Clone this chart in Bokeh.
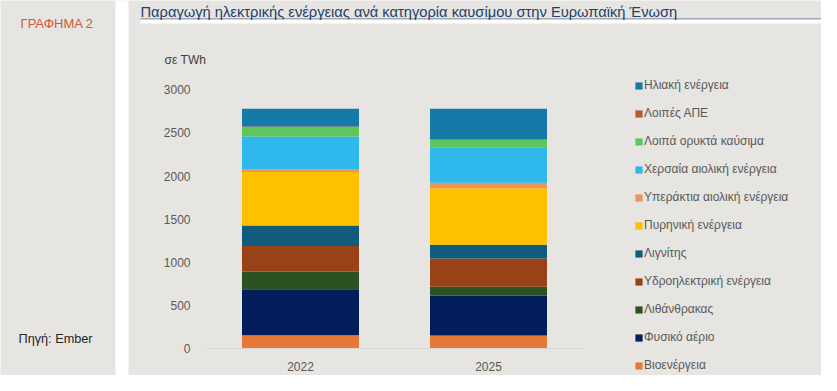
from bokeh.plotting import figure
from bokeh.models import (ColumnDataSource, Legend, LegendItem, Label, BoxAnnotation,
                          Range1d, FixedTicker)
from bokeh.embed import file_html
from bokeh.resources import INLINE

# ---------------- data ----------------
years = ["2022", "2025"]
series = ["Βιοενέργεια", "Φυσικό αέριο", "Λιθάνθρακας", "Υδροηλεκτρική ενέργεια",
          "Λιγνίτης", "Πυρηνική ενέργεια", "Υπεράκτια αιολική ενέργεια",
          "Χερσαία αιολική ενέργεια", "Λοιπά ορυκτά καύσιμα", "Λοιπές ΑΠΕ",
          "Ηλιακή ενέργεια"]
bio = [159, 156]
gas = [533, 463]
coal = [205, 101]
hydro = [293, 328]
lignite = [240, 159]
nuclear = [617, 652]
offshore = [31, 66]
onshore = [382, 409]
other_fossil = [108, 89]
other_res = [8, 8]
solar = [205, 351]
values = [bio, gas, coal, hydro, lignite, nuclear, offshore, onshore,
          other_fossil, other_res, solar]
colors = ["#E8773A", "#021F5C", "#2B5221", "#9A4217", "#115C7D", "#FFC000",
          "#E9955C", "#2FB8EC", "#5EC65A", "#B85A2A", "#157AA7"]
y_ticks = [0, 500, 1000, 1500, 2000, 2500, 3000]

BG = "#E6E5E1"
FONT = "Liberation Sans"

# ---------------- layout (frame fills the whole canvas) ----------------
W, H = 821, 375
X0_PX, DX_PX = 300.0, 188.0          # centre of first bar, distance between bars
Y0_PX, Y3000_PX = 348.4, 89.3        # pixel row of 0 and of 3000
ppu = (Y0_PX - Y3000_PX) / 3000.0
x_start = (0 - X0_PX) / DX_PX
x_end = (W - X0_PX) / DX_PX
y_end = Y0_PX / ppu
y_start = (Y0_PX - H) / ppu

p = figure(width=W, height=H, x_range=Range1d(x_start, x_end),
           y_range=Range1d(y_start, y_end),
           output_backend="svg", toolbar_location=None, title=None,
           min_border=0)
p.background_fill_color = BG
p.border_fill_color = BG
p.outline_line_color = None
p.xgrid.visible = False
p.ygrid.visible = False

keys = [f"s{i}" for i in range(len(series))]
data = {"x": list(range(len(years)))}
for k, v in zip(keys, values):
    data[k] = v
src = ColumnDataSource(data)
rends = p.vbar_stack(keys, x="x", width=117 / DX_PX, color=colors, source=src,
                     line_color=None)

# axes drawn inside the frame
axis_left = (206 - X0_PX) / DX_PX
axis_right = (582 - X0_PX) / DX_PX

p.yaxis.fixed_location = axis_left
p.yaxis.bounds = (0, 3000)
p.yaxis.ticker = FixedTicker(ticks=y_ticks)
p.yaxis.axis_line_color = None
p.yaxis.major_tick_line_color = None
p.yaxis.minor_tick_line_color = None
p.yaxis.major_label_standoff = 10
p.yaxis.major_label_text_font = FONT
p.yaxis.major_label_text_font_size = "12px"
p.yaxis.major_label_text_color = "#595959"

p.xaxis.fixed_location = 0
p.xaxis.bounds = (axis_left, axis_right)
p.xaxis.ticker = FixedTicker(ticks=list(range(len(years))))
p.xaxis.major_label_overrides = {i: y for i, y in enumerate(years)}
p.xaxis.axis_line_color = "#D6D6D6"
p.xaxis.axis_line_width = 1
p.xaxis.major_tick_line_color = None
p.xaxis.minor_tick_line_color = None
p.xaxis.major_label_standoff = 7
p.xaxis.major_label_text_font = FONT
p.xaxis.major_label_text_font_size = "12px"
p.xaxis.major_label_text_color = "#595959"

# helpers: picture coords (top-left origin) -> frame-relative screen coords
def sx(X):
    return X
def sy(Y):
    return H - Y

# legend (top to bottom = reverse stacking order)
items = [LegendItem(label=series[i], renderers=[rends[i]])
         for i in reversed(range(len(series)))]
legend = Legend(items=items, location=(634, H - 75 - 300),
                orientation="vertical",
                glyph_width=9, glyph_height=9, label_height=20, spacing=8,
                label_standoff=1, padding=0, margin=0,
                background_fill_alpha=0, border_line_color=None,
                label_text_font=FONT, label_text_font_size="12px",
                label_text_color="#595959")
p.add_layout(legend, "center")

def box(l, r, t, b, color, level="annotation"):
    p.add_layout(BoxAnnotation(left=sx(l), right=sx(r), top=sy(t), bottom=sy(b),
                               left_units="screen", right_units="screen",
                               top_units="screen", bottom_units="screen",
                               fill_color=color, fill_alpha=1, line_color=None,
                               level=level))

# white separator strip
box(115, 128, -10, 400, "white", level="underlay")
# title underline
box(140, 826, 18, 19, "#5D6B7E")
box(140, 826, 19, 23, "white")

def lab(text, X, Y, size, color, align="left"):
    p.add_layout(Label(x=sx(X), y=sy(Y), x_units="screen", y_units="screen",
                       text=text, text_font=FONT, text_font_size=size,
                       text_color=color, text_align=align, text_baseline="middle"))

lab("Παραγωγή ηλεκτρικής ενέργειας ανά κατηγορία καυσίμου στην Ευρωπαϊκή Ένωση",
    140, 11, "14.7px", "#22406C")
lab("ΓΡΑΦΗΜΑ 2", 20, 23, "13px", "#D4573B")
lab("Πηγή: Ember", 18, 338, "12.7px", "#262626")
lab("σε TWh", 164, 59, "12px", "#404040")

open("out.html", "w").write(file_html(p, INLINE))
